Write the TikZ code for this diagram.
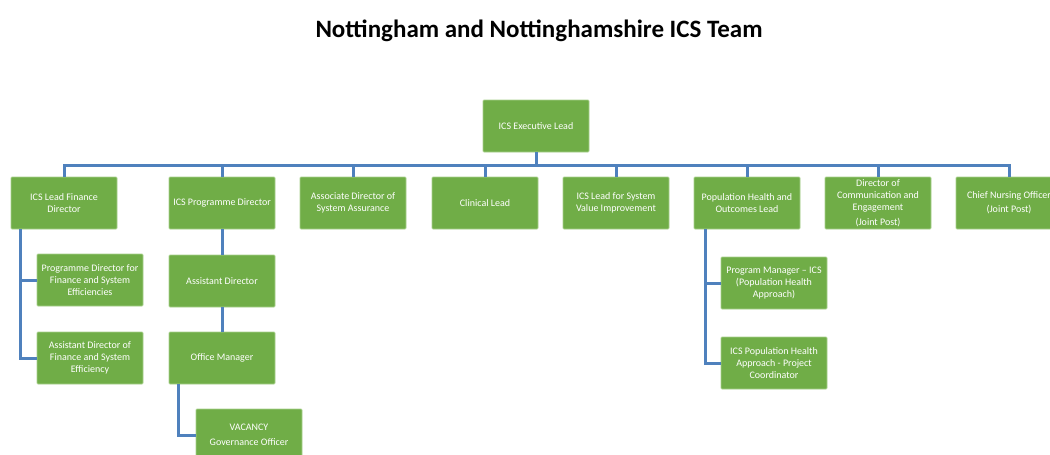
\documentclass[tikz,border=0pt]{standalone}
\usepackage{fontspec}
\setmainfont{Carlito}

\definecolor{postgreen}{RGB}{112,173,71}
\definecolor{postedge}{RGB}{168,208,140}
\definecolor{linkblue}{RGB}{79,129,189}

\begin{document}
\begin{tikzpicture}[x=1pt,y=-1pt,
	post/.style={draw=postedge,line width=0.8pt,fill=postgreen,text=white,align=center,
		rounded corners=1pt,minimum width=106pt,minimum height=52pt,inner sep=0pt,
		font=\fontsize{10}{12}\selectfont},
	link/.style={draw=linkblue,line width=3pt}]
	\useasboundingbox (0,0) rectangle (1050,455);
	\node[font=\fontsize{25}{30}\bfseries\selectfont] (title) at (539,31) {Nottingham and Nottinghamshire ICS Team};
	% top
	\node[post] (exec) at (536,126) {ICS Executive Lead};
	% first row
	\node[post] (fin) at (64,203) {ICS Lead Finance\\Director};
	\node[post] (prog) at (222,203) {ICS Programme Director};
	\node[post] (assur) at (353,203) {Associate Director of\\System Assurance};
	\node[post] (clin) at (485,203) {Clinical Lead};
	\node[post] (value) at (616,203) {ICS Lead for System\\Value Improvement};
	\node[post] (pophealth) at (747,203) {Population Health and\\Outcomes Lead};
	\node[post] (comms) at (878,203) {Director of\\Communication and\\Engagement\\[3pt](Joint Post)};
	\node[post] (nursing) at (1009,203) {Chief Nursing Officer\\[2pt](Joint Post)};
	% finance team
	\node[post] (pdfin) at (90,280) {Programme Director for\\Finance and System\\Efficiencies};
	\node[post] (adfin) at (90,358) {Assistant Director of\\Finance and System\\Efficiency};
	% programme team
	\node[post] (asstdir) at (222,281) {Assistant Director};
	\node[post] (office) at (222,358) {Office Manager};
	\node[post] (vacancy) at (249,435) {VACANCY\\[3pt]Governance Officer};
	% population health team
	\node[post] (progman) at (774,283) {Program Manager -- ICS\\(Population Health\\Approach)};
	\node[post] (projco) at (774,363) {ICS Population Health\\Approach - Project\\Coordinator};
	% connectors
	\coordinate (bus) at (536,165);
	\coordinate (finstem) at (20,229);
	\coordinate (officestem) at (178,384);
	\coordinate (popstem) at (705,229);
	\draw[link] (exec) -- (bus);
	\foreach \n in {fin,prog,assur,clin,value,pophealth,comms,nursing}
		\draw[link] (bus) -| (\n.north);
	\draw[link] (finstem) |- (pdfin.west);
	\draw[link] (finstem) |- (adfin.west);
	\draw[link] (prog) -- (asstdir);
	\draw[link] (asstdir) -- (office);
	\draw[link] (officestem) |- (vacancy.west);
	\draw[link] (popstem) |- (progman.west);
	\draw[link] (popstem) |- (projco.west);
\end{tikzpicture}
\end{document}
